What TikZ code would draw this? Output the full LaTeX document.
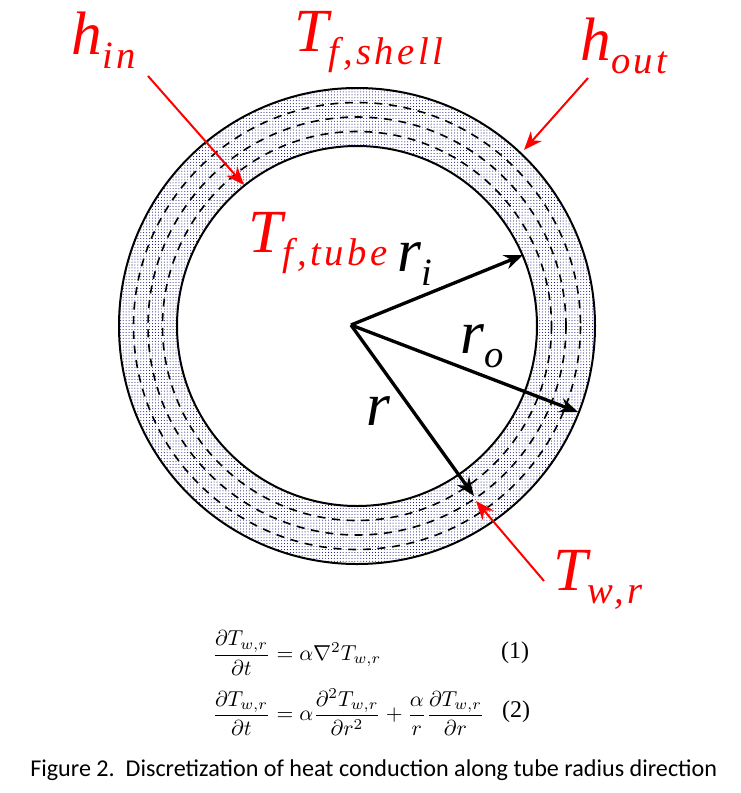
\documentclass[tikz,border=0pt]{standalone}
\usepackage{amsmath}
\usepackage{fontspec}
\setmainfont{Carlito}
\newfontfamily\labelfont{Liberation Serif}
\usetikzlibrary{arrows.meta,patterns.meta}

\newcommand{\sublabel}[2]{#1\raisebox{-0.22em}{\fontsize{29}{29}\selectfont\addfontfeatures{LetterSpace=9}#2}}

\tikzset{
  redlabel/.style={text=red, inner sep=0pt, font=\labelfont\itshape\fontsize{46}{46}\selectfont},
  blacklabel/.style={text=black, inner sep=0pt, font=\labelfont\itshape\fontsize{46}{46}\selectfont},
  eqlabel/.style={inner sep=0pt, scale=1.62},
  eqnum/.style={inner sep=0pt, font=\labelfont\fontsize{18}{18}\selectfont},
  radiusarrow/.style={line width=2.5pt, -{Stealth[length=14pt,width=11pt]}},
  redarrow/.style={red, line width=1.5pt, -{Stealth[length=14pt,width=11pt]}},
}

\begin{document}
\begin{tikzpicture}[x=0.75pt,y=-0.75pt]
  \useasboundingbox (0,0) rectangle (740,793);

  % tube wall
  \fill[pattern={Dots[distance=2.2pt,radius=0.38pt]}, pattern color=blue!40!black, even odd rule]
    (357,326) circle (238) (357,326) circle (180);
  \draw[line width=1.5pt] (357,326) circle (238);
  \draw[line width=1.5pt] (357,326) circle (180);

  % discretization layers
  \foreach \rad in {194.5,209,223.5} {
    \draw[line width=1.2pt, dash pattern=on 6pt off 5pt] (357,326) circle (\rad);
  }

  % points on the picture
  \coordinate (center) at (351,325);
  \coordinate (riend) at (523,255);
  \coordinate (roend) at (578,412);
  \coordinate (rend) at (474,496);
  \coordinate (hinstart) at (148,76);
  \coordinate (hinend) at (244,185);
  \coordinate (houtstart) at (588,78);
  \coordinate (houtend) at (524,150);
  \coordinate (twrstart) at (544,581);
  \coordinate (twrend) at (476,501);

  % radius arrows
  \foreach \e in {riend,roend,rend} {
    \draw[radiusarrow] (center) -- (\e);
  }

  % red arrows
  \draw[redarrow] (hinstart) -- (hinend);
  \draw[redarrow] (houtstart) -- (houtend);
  \draw[redarrow] (twrstart) -- (twrend);

  % labels
  \node[redlabel] (hin) at (104,40) {\sublabel{h}{in}};
  \node[redlabel] (tshell) at (369,42) {\sublabel{T}{f,shell}};
  \node[redlabel] (hout) at (624,46) {\sublabel{h}{out}};
  \node[redlabel] (ttube) at (318,243) {\sublabel{T}{f,tube}};
  \node[redlabel] (twr) at (598,580) {\sublabel{T}{w,r}};
  \node[blacklabel] (ri) at (415,264) {\sublabel{r}{i}};
  \node[blacklabel] (ro) at (482,346) {\sublabel{r}{o}};
  \node[blacklabel] (r) at (378,411) {r};

  % equations
  \node[eqlabel, anchor=west] (eqa) at (212,653)
    {$\dfrac{\partial T_{w,r}}{\partial t}=\alpha\nabla^2 T_{w,r}$};
  \node[eqnum] (eqanum) at (515,653) {(1)};
  \node[eqlabel, anchor=west] (eqb) at (212,712)
    {$\dfrac{\partial T_{w,r}}{\partial t}=\alpha\dfrac{\partial^2 T_{w,r}}{\partial r^2}+\dfrac{\alpha}{r}\dfrac{\partial T_{w,r}}{\partial r}$};
  \node[eqnum] (eqbnum) at (516,712) {(2)};

  % caption
  \node[inner sep=0pt, anchor=west, font=\fontsize{18.1}{22}\selectfont] (caption) at (30,770)
    {Figure 2.\ \ Discretization of heat conduction along tube radius direction};
\end{tikzpicture}
\end{document}
